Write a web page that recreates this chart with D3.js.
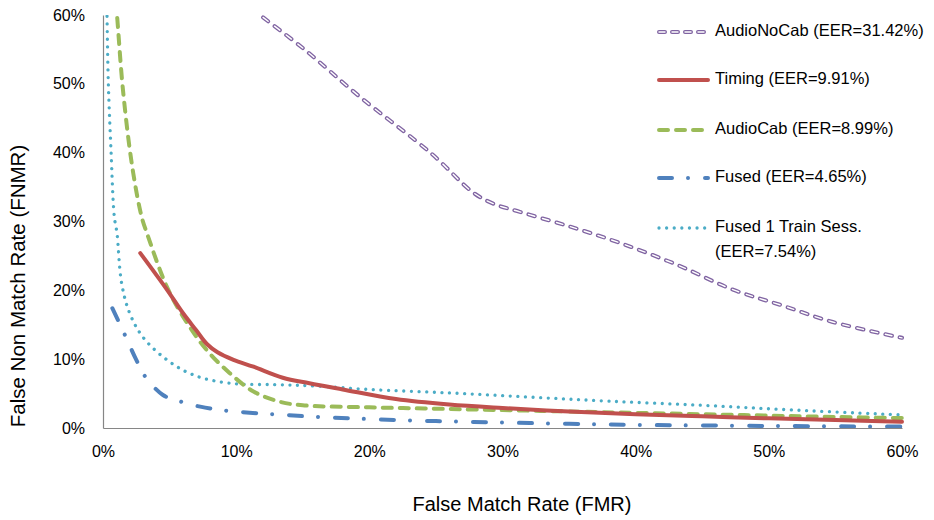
<!DOCTYPE html>
<html><head><meta charset="utf-8">
<script src="https://cdn.jsdelivr.net/npm/d3@7"></script>
<style>
html,body{margin:0;padding:0;background:#fff;}
text{font-family:"Liberation Sans",Arial,sans-serif;fill:#000;}
</style></head>
<body><svg id="c" width="934" height="520"></svg>
<script>
const xTicks = [0, 10, 20, 30, 40, 50, 60];
const yTicks = [0, 10, 20, 30, 40, 50, 60];
const seriesNames = ["AudioNoCab (EER=31.42%)", "Timing (EER=9.91%)", "AudioCab (EER=8.99%)", "Fused (EER=4.65%)", "Fused 1 Train Sess.|(EER=7.54%)"];
// [FMR %, FNMR %]
const audioNoCab = [[11.2,61],[11.6,60.3],[15,55.2],[19.3,48.1],[24.7,39.8],[27.8,34.2],[29.3,32.6],[31.3,31.4],[35,29.3],[38.8,26.9],[43,23.8],[47.3,20.1],[51,17.8],[54.8,15.4],[60,13.1]];
const timing = [[2.8,25.4],[4.8,20.1],[6,16.7],[7,14.2],[7.8,12.2],[8.6,11],[9.8,9.9],[11.3,8.9],[13.5,7.3],[15.5,6.5],[18,5.6],[22,4.2],[26,3.4],[30,2.9],[35,2.4],[40,2.0],[45,1.7],[50,1.4],[55,1.15],[60,0.9]];
const audioCab = [[0.95,62],[1.05,60],[1.5,49.1],[2.2,37.9],[2.9,30.7],[3.3,28.3],[4.8,20.5],[6.3,15.3],[7.8,11.3],[9.5,8],[11.3,5.3],[13.3,3.8],[15,3.3],[20,3.0],[25,2.8],[30,2.6],[35,2.4],[40,2.2],[45,2.0],[50,1.8],[55,1.6],[60,1.45]];
const fused = [[0.7,17.4],[1.65,13.5],[2.5,9.9],[3.2,7.4],[4.5,4.8],[5.9,3.8],[7.3,3.1],[9.3,2.5],[12.8,2.0],[16.3,1.6],[20,1.3],[25,1.0],[30,0.8],[35,0.6],[40,0.45],[50,0.3],[60,0.2]];
const fused1 = [[0.28,62],[0.3,60],[0.4,50.1],[0.6,40.4],[0.85,30.7],[1.05,28.3],[1.4,21],[2,16.7],[3,13.2],[4.8,9.9],[6.8,7.7],[9.5,6.5],[13,6.3],[16,6.1],[20,5.6],[26,5.1],[32,4.5],[38,3.9],[45,3.3],[52,2.6],[60,1.9]];

const svg = d3.select("#c");
const L = 103, R = 902, T = 15, B = 428;
const x = d3.scaleLinear().domain([0, 60]).range([L, R]);
const y = d3.scaleLinear().domain([0, 60]).range([B, T]);

svg.append("defs").append("clipPath").attr("id","clip")
  .append("rect").attr("x", L).attr("y", T).attr("width", R - L + 2).attr("height", B - T);

// axes
const xAxis = svg.append("g").attr("transform", `translate(0,${B})`)
  .call(d3.axisBottom(x).tickValues(xTicks).tickFormat(d => d + "%").tickSize(0).tickPadding(18));
const yAxis = svg.append("g").attr("transform", `translate(${L},0)`)
  .call(d3.axisLeft(y).tickValues(yTicks).tickFormat(d => d + "%").tickSize(0).tickPadding(18));
[xAxis, yAxis].forEach(g => {
  g.select(".domain").attr("stroke", "#868686").attr("stroke-width", 1.2);
  g.selectAll("text").attr("font-size", 16).attr("font-family", '"Liberation Sans",Arial,sans-serif').attr("fill", "#000");
});

svg.append("text").attr("x", 522).attr("y", 506).attr("text-anchor", "middle")
  .attr("dominant-baseline", "middle").attr("font-size", 20).text("False Match Rate (FMR)");
svg.append("text").attr("transform", "translate(20,286) rotate(-90)").attr("text-anchor", "middle")
  .attr("dominant-baseline", "middle").attr("font-size", 20.5).text("False Non Match Rate (FNMR)");

const line = d3.line().x(d => x(d[0])).y(d => y(d[1])).curve(d3.curveCatmullRom.alpha(0.5));
const plot = svg.append("g").attr("clip-path", "url(#clip)");

const styles = [
  {data: audioNoCab, layers: [
    {stroke: "#8064A2", w: 4, dash: "6.5,8", cap: "round"},
    {stroke: "#ffffff", w: 1.4, dash: "6.5,8", cap: "round"}]},
  {data: timing, layers: [{stroke: "#C0504D", w: 4, dash: null, cap: "round"}]},
  {data: audioCab, layers: [{stroke: "#9BBB59", w: 4, dash: "9,8", cap: "round"}]},
  {data: fused, layers: [{stroke: "#4F81BD", w: 4, dash: "13,16,0.01,17", cap: "round"}]},
  {data: fused1, layers: [{stroke: "#4BACC6", w: 3.3, dash: "0.01,7.6", cap: "round"}]}
];

// draw order: fused1, fused, audioCab, timing, audioNoCab
[4, 3, 2, 1, 0].forEach(i => {
  styles[i].layers.forEach(l => {
    plot.append("path").datum(styles[i].data).attr("d", line)
      .attr("fill", "none").attr("stroke", l.stroke).attr("stroke-width", l.w)
      .attr("stroke-dasharray", l.dash).attr("stroke-linecap", l.cap).attr("stroke-linejoin", "round");
  });
});

// legend
const legY = [32, 80, 130, 178, 228];
const lx0 = 659, lx1 = 708;
styles.forEach((s, i) => {
  const g = svg.append("g");
  s.layers.forEach(l => {
    g.append("line").attr("x1", lx0).attr("x2", lx1).attr("y1", legY[i]).attr("y2", legY[i])
      .attr("stroke", l.stroke).attr("stroke-width", l.w)
      .attr("stroke-dasharray", i === 0 ? "6,7" : l.dash).attr("stroke-linecap", l.cap);
  });
  const parts = seriesNames[i].split("|");
  parts.forEach((p, j) => {
    g.append("text").attr("x", 715).attr("y", legY[i] + j * 25).attr("dominant-baseline", "middle")
      .attr("font-size", 16.5).text(p);
  });
});
</script></body></html>
